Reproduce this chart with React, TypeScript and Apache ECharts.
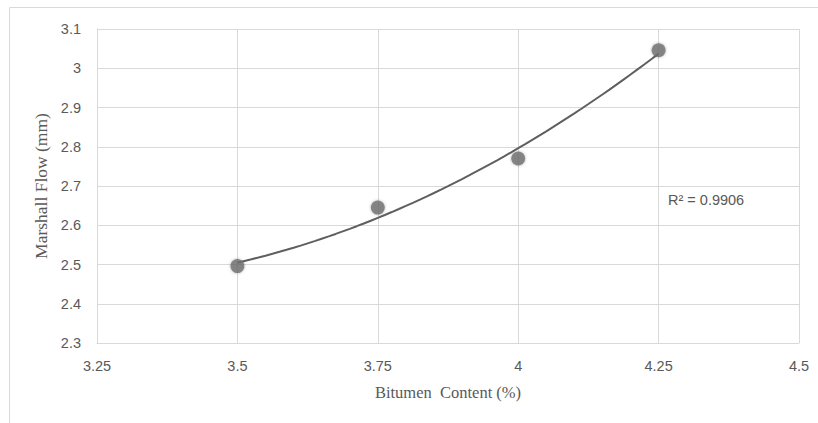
import React, { useEffect, useRef } from "react";
import * as echarts from "echarts";

const bitumenContent = [3.5, 3.75, 4.0, 4.25];
const marshallFlow = [2.496, 2.645, 2.77, 3.046];
const xTicks = [3.25, 3.5, 3.75, 4.0, 4.25, 4.5];
const yTicks = [2.3, 2.4, 2.5, 2.6, 2.7, 2.8, 2.9, 3.0, 3.1];
const rSquaredLabel = "R\u00B2 = 0.9906";
const xTitle = "Bitumen  Content (%)";
const yTitle = "Marshall Flow (mm)";

// Least-squares quadratic fit (Excel polynomial trendline, order 2)
function quadFit(xs: number[], ys: number[]) {
  const n = xs.length;
  let s0 = n, s1 = 0, s2 = 0, s3 = 0, s4 = 0, t0 = 0, t1 = 0, t2 = 0;
  for (let i = 0; i < n; i++) {
    const x = xs[i], y = ys[i];
    s1 += x; s2 += x * x; s3 += x * x * x; s4 += x * x * x * x;
    t0 += y; t1 += x * y; t2 += x * x * y;
  }
  const M = [
    [s0, s1, s2, t0],
    [s1, s2, s3, t1],
    [s2, s3, s4, t2],
  ];
  for (let c = 0; c < 3; c++) {
    for (let r = c + 1; r < 3; r++) {
      const f = M[r][c] / M[c][c];
      for (let k = c; k < 4; k++) M[r][k] -= f * M[c][k];
    }
  }
  const coef = [0, 0, 0];
  for (let r = 2; r >= 0; r--) {
    let s = M[r][3];
    for (let k = r + 1; k < 3; k++) s -= M[r][k] * coef[k];
    coef[r] = s / M[r][r];
  }
  return (x: number) => coef[0] + coef[1] * x + coef[2] * x * x;
}

export default function App() {
  const ref = useRef<HTMLDivElement>(null);
  useEffect(() => {
    if (!ref.current) return;
    const chart = echarts.init(ref.current, undefined, { renderer: "svg" });
    const f = quadFit(bitumenContent, marshallFlow);
    const x0 = bitumenContent[0];
    const x1 = bitumenContent[bitumenContent.length - 1];
    const trend: number[][] = [];
    const steps = 60;
    for (let i = 0; i <= steps; i++) {
      const x = x0 + ((x1 - x0) * i) / steps;
      trend.push([x, f(x)]);
    }
    const labelColor = "#595959";
    const gridColor = "#d9d9d9";
    chart.setOption({
      animation: false,
      backgroundColor: "#ffffff",
      grid: { left: 97, right: 19, top: 29, bottom: 80 },
      xAxis: {
        type: "value",
        min: xTicks[0],
        max: xTicks[xTicks.length - 1],
        interval: 0.25,
        name: xTitle,
        nameLocation: "middle",
        nameGap: 41,
        nameTextStyle: { fontFamily: "Liberation Serif", fontSize: 16.5, color: labelColor },
        axisLine: { show: true, lineStyle: { color: gridColor, width: 1 } },
        axisTick: { show: false },
        axisLabel: { color: labelColor, fontFamily: "Liberation Sans", fontSize: 14.5, margin: 15 },
        splitLine: { show: true, lineStyle: { color: gridColor, width: 1 } },
      },
      yAxis: {
        type: "value",
        min: yTicks[0],
        max: yTicks[yTicks.length - 1],
        interval: 0.1,
        name: yTitle,
        nameLocation: "middle",
        nameGap: 44,
        nameRotate: 90,
        nameTextStyle: { fontFamily: "Liberation Serif", fontSize: 17.5, color: labelColor },
        axisLine: { show: true, lineStyle: { color: gridColor, width: 1 } },
        axisTick: { show: false },
        axisLabel: {
          color: labelColor,
          fontFamily: "Liberation Sans",
          fontSize: 14.5,
          margin: 16,
          formatter: (v: number) => String(Math.round(v * 10) / 10),
        },
        splitLine: { show: true, lineStyle: { color: gridColor, width: 1 } },
      },
      graphic: [
        {
          type: "polyline",
          shape: { points: [[9.5, 430], [9.5, 7.5], [830, 7.5]] },
          style: { stroke: gridColor, lineWidth: 1, fill: "none" },
          silent: true,
        },
        {
          type: "text",
          left: 668,
          top: 192,
          style: { text: rSquaredLabel, fontFamily: "Liberation Sans", fontSize: 14.5, fill: labelColor },
        },
      ],
      series: [
        {
          type: "line",
          data: trend,
          showSymbol: false,
          smooth: false,
          lineStyle: { color: "#5f5f5f", width: 2 },
          z: 2,
        },
        {
          type: "scatter",
          data: bitumenContent.map((x, i) => [x, marshallFlow[i]]),
          symbol: "circle",
          symbolSize: 14,
          itemStyle: { color: "#707070", shadowBlur: 3, shadowColor: "rgba(0,0,0,0.35)" },
          z: 3,
        },
      ],
    });
    return () => chart.dispose();
  }, []);
  return (
    <div
      ref={ref}
      style={{ position: "fixed", left: 0, top: 0, width: 818, height: 423 }}
    />
  );
}
